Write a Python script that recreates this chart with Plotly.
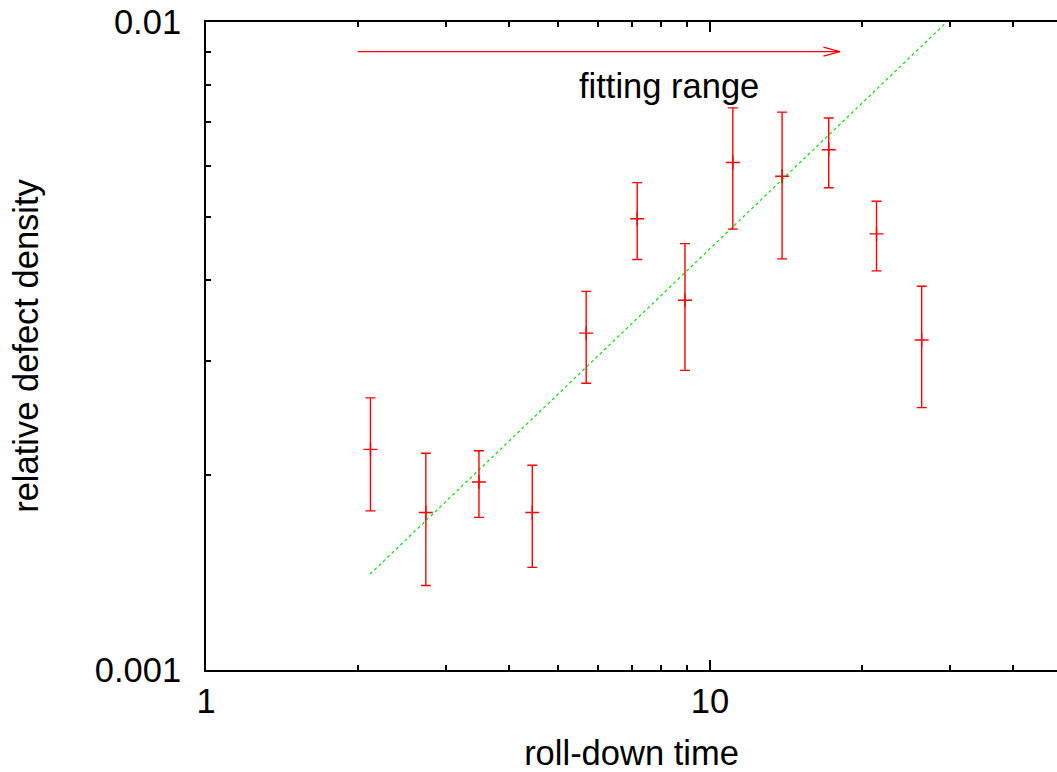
import math
import plotly.graph_objects as go

# roll-down time (x) and relative defect density (y) with error-bar limits
roll_down_time = [2.12, 2.73, 3.48, 4.44, 5.68, 7.17, 8.92, 11.1, 13.9, 17.2, 21.4, 26.3]
defect_density = [0.00219, 0.00175, 0.00195, 0.00175, 0.00331, 0.00497, 0.00372, 0.00607, 0.00578, 0.00635, 0.00471, 0.00323]
density_low    = [0.00176, 0.00135, 0.00172, 0.00144, 0.00277, 0.00430, 0.00290, 0.00479, 0.00431, 0.00555, 0.00413, 0.00254]
density_high   = [0.00263, 0.00216, 0.00218, 0.00207, 0.00384, 0.00565, 0.00455, 0.00737, 0.00726, 0.00711, 0.00529, 0.00391]

# fitted power-law line (end points)
fit_x = [2.116, 29.5]
fit_y = [0.001406, 0.0100]

# fitting range arrow
range_x = [2.0, 18.1]
range_y = 0.009

x_ticks = [1, 10]
x_tick_labels = ["1", "10"]
y_ticks = [0.001, 0.01]
y_tick_labels = ["0.001", "0.01"]

FONT = "Liberation Sans, Arial, sans-serif"
FS = 34.5
RED = "#ff0000"

err_plus = [h - v for h, v in zip(density_high, defect_density)]
err_minus = [v - l for v, l in zip(defect_density, density_low)]

fig = go.Figure()

fig.add_trace(go.Scatter(
    x=fit_x, y=fit_y, mode="lines",
    line=dict(color="#00e000", width=1.2, dash="3px,3px"),
    showlegend=False, hoverinfo="skip",
))

fig.add_trace(go.Scatter(
    x=roll_down_time, y=defect_density, mode="markers",
    marker=dict(symbol="cross-thin", size=10, color=RED, line=dict(color=RED, width=1.4)),
    error_y=dict(type="data", symmetric=False, array=err_plus, arrayminus=err_minus,
                 color=RED, thickness=1.4, width=5),
    showlegend=False,
))

# arrow shaft
fig.add_shape(type="line", xref="x", yref="y",
              x0=range_x[0], x1=range_x[1], y0=range_y, y1=range_y,
              line=dict(color=RED, width=1.3))
# open arrowhead: two wings drawn as annotation arrows ending at the arrow tip
for dy in (-5, 5):
    fig.add_annotation(x=math.log10(range_x[1]), y=math.log10(range_y), xref="x", yref="y",
                       text="", showarrow=True, arrowhead=0, arrowwidth=1.3, arrowcolor=RED,
                       ax=-18, ay=dy, standoff=0, startstandoff=0)

fig.add_annotation(x=math.log10(8.3), y=math.log10(0.00796), xref="x", yref="y",
                   text="fitting range", showarrow=False,
                   font=dict(family=FONT, size=FS, color="black"),
                   xanchor="center", yanchor="middle")

x_max = 10 ** ((1057 - 206) / 504)

fig.update_layout(
    width=1057, height=772,
    margin=dict(l=206, r=0, t=22, b=102),
    paper_bgcolor="white", plot_bgcolor="white",
    font=dict(family=FONT, size=FS, color="black"),
    xaxis=dict(
        type="log", range=[0, math.log10(x_max)],
        tickvals=x_ticks, ticktext=x_tick_labels,
        ticks="inside", ticklen=10, tickwidth=1.5, tickcolor="black",
        minor=dict(dtick="D1", ticks="inside", ticklen=5, tickwidth=1.5, tickcolor="black", showgrid=False),
        showline=True, linecolor="black", linewidth=2, mirror="allticks",
        showgrid=False, zeroline=False, automargin=False,
        ticklabelstandoff=0,
        title=dict(text="roll-down time", font=dict(size=FS), standoff=32),
    ),
    yaxis=dict(
        type="log", range=[-3, -2],
        tickvals=y_ticks, ticktext=y_tick_labels,
        ticks="inside", ticklen=10, tickwidth=1.5, tickcolor="black",
        minor=dict(dtick="D1", ticks="inside", ticklen=5, tickwidth=1.5, tickcolor="black", showgrid=False),
        showline=True, linecolor="black", linewidth=2, mirror=False,
        showgrid=False, zeroline=False, automargin=False,
        ticklabelstandoff=16,
        title=dict(text="relative defect density", font=dict(size=FS), standoff=46),
    ),
)

fig.write_html("out.html", config={"displayModeBar": False},
               post_script="document.body.style.margin='0';document.body.style.overflow='hidden';")
